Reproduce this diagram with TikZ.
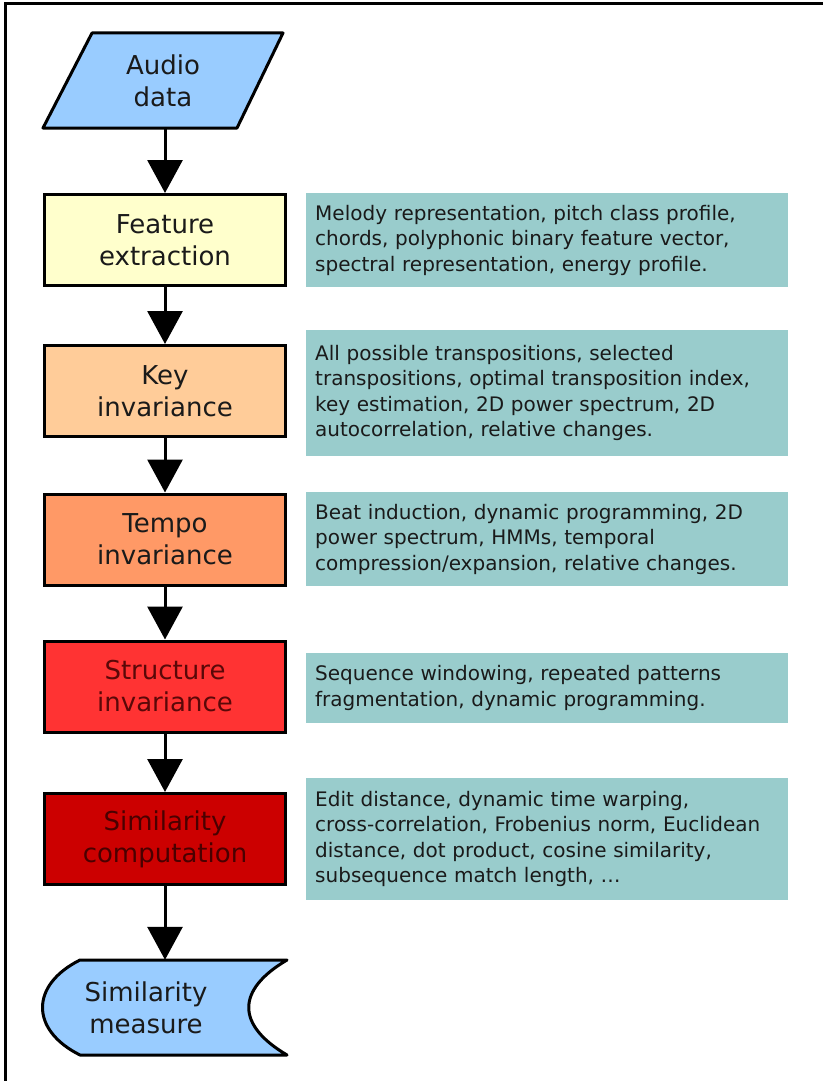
\documentclass[tikz,border=0pt]{standalone}
\usepackage{fontspec}
\setmainfont{DejaVu Sans}
\usetikzlibrary{arrows.meta}
\definecolor{bluec}{HTML}{99CCFF}
\definecolor{featc}{HTML}{FFFFCC}
\definecolor{keyc}{HTML}{FFCC99}
\definecolor{tempoc}{HTML}{FF9966}
\definecolor{structc}{HTML}{FF3333}
\definecolor{compc}{HTML}{CC0000}
\definecolor{sidec}{HTML}{99CCCC}
\definecolor{txtc}{HTML}{1A1A1A}
\definecolor{strtxt}{HTML}{5A0808}
\definecolor{comptxt}{HTML}{4A0000}
\begin{document}
\begin{tikzpicture}[x=1pt,y=-1pt,
  flow/.style={draw=black, line width=3pt, minimum width=241pt, minimum height=91pt,
    align=center, font=\fontsize{26}{32}\selectfont, inner sep=0pt, text=txtc},
  plain/.style={minimum width=240pt, minimum height=95pt, align=center,
    font=\fontsize{26}{32}\selectfont, inner sep=0pt, text=txtc},
  side/.style={fill=sidec, anchor=west, text width=464pt, align=left,
    font=\fontsize{20}{25.5}\selectfont, inner xsep=9pt, inner ysep=0pt, text=txtc},
  conn/.style={line width=3pt, -{Triangle[width=35pt,length=33pt]}},
  outline/.style={draw=black, line width=3pt, line join=round}
]
\useasboundingbox (0,0) rectangle (823,1081);
\fill[white] (0,0) rectangle (823,1081);
\draw[line width=3pt] (5,1081) -- (5,4) -- (823,4);

% Audio data (parallelogram)
\draw[outline, fill=bluec] (43,128) -- (237,128) -- (283,33) -- (92,33) -- cycle;
\node[plain] (audio) at (163,80.5) {Audio\\data};

% Flow boxes
\node[flow, fill=featc] (feat) at (165,240) {Feature\\extraction};
\node[flow, fill=keyc] (key) at (165,391) {Key\\invariance};
\node[flow, fill=tempoc] (tempo) at (165,539.5) {Tempo\\invariance};
\node[flow, fill=structc, text=strtxt] (struct) at (165,686.5) {Structure\\invariance};
\node[flow, fill=compc, text=comptxt] (comp) at (165,839) {Similarity\\computation};

% Similarity measure (display shape)
\draw[outline, fill=bluec] (80,960) -- (287,960) .. controls (236,990) and (236,1025) .. (287,1055)
  -- (80,1055) .. controls (30,1030) and (30,985) .. cycle;
\node[plain, minimum width=200pt] (meas) at (146,1007.5) {Similarity\\measure};

% Connectors
\draw[conn] (audio.south -| feat.north) -- (feat);
\draw[conn] (feat) -- (key);
\draw[conn] (key) -- (tempo);
\draw[conn] (tempo) -- (struct);
\draw[conn] (struct) -- (comp);
\draw[conn] (comp.south) -- (comp.south |- meas.north);

% Side boxes
\node[side, minimum height=94pt] (s1) at (306,240) {Melody representation, pitch class profile,\\chords, polyphonic binary feature vector,\\spectral representation, energy profile.};
\node[side, minimum height=126pt] (s2) at (306,393) {All possible transpositions, selected\\transpositions, optimal transposition index,\\key estimation, 2D power spectrum, 2D\\autocorrelation, relative changes.};
\node[side, minimum height=94pt] (s3) at (306,539) {Beat induction, dynamic programming, 2D\\power spectrum, HMMs, temporal\\compression/expansion, relative changes.};
\node[side, minimum height=70pt] (s4) at (306,688) {Sequence windowing, repeated patterns\\fragmentation, dynamic programming.};
\node[side, minimum height=122pt] (s5) at (306,839) {Edit distance, dynamic time warping,\\cross-correlation, Frobenius norm, Euclidean\\distance, dot product, cosine similarity,\\subsequence match length, \dots};
\end{tikzpicture}
\end{document}
